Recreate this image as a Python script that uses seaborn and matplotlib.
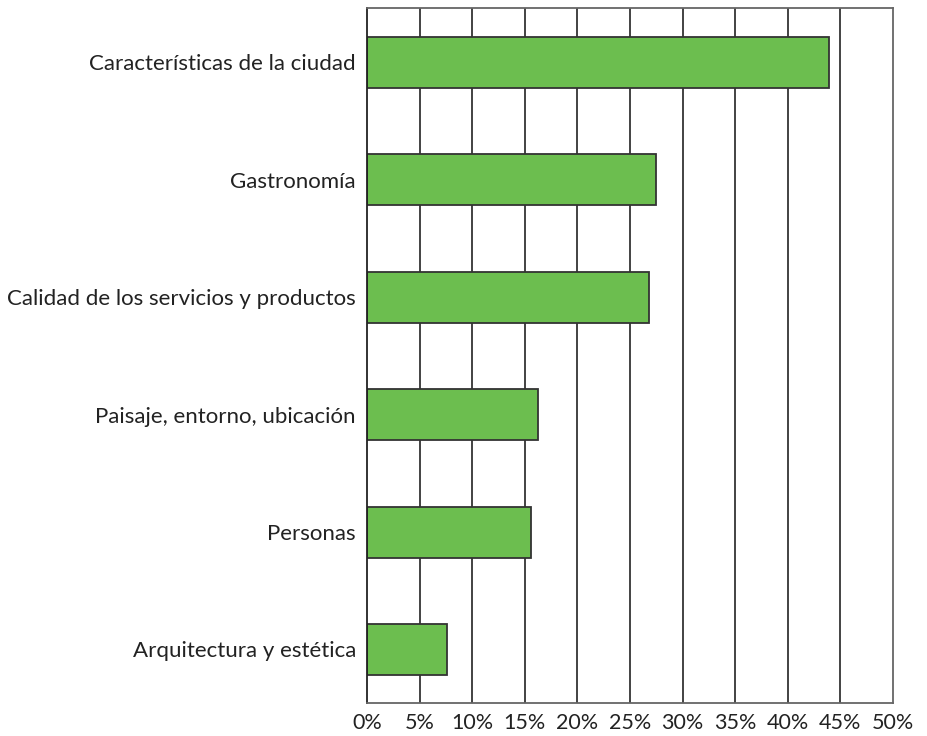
import matplotlib
matplotlib.use("Agg")
import matplotlib.pyplot as plt
import seaborn as sns
import pandas as pd

categories = [
    "Características de la ciudad",
    "Gastronomía",
    "Calidad de los servicios y productos",
    "Paisaje, entorno, ubicación",
    "Personas",
    "Arquitectura y estética",
]
values = [43.9, 27.5, 26.8, 16.3, 15.6, 7.6]
tick_values = list(range(0, 55, 5))
tick_labels = [f"{v}%" for v in tick_values]

df = pd.DataFrame({"categoria": categories, "valor": values})

sns.set_style("white")
plt.rcParams["font.family"] = ["Lato", "DejaVu Sans"]

fig = plt.figure(figsize=(9.27, 7.36), dpi=100)
ax = fig.add_axes([367 / 927, 1 - 703 / 736, (893 - 367) / 927, (703 - 8) / 736])

# vertical grid lines behind bars
for v in tick_values[1:-1]:
    ax.axvline(v, color="#222222", lw=1.2, zorder=0)

sns.barplot(data=df, y="categoria", x="valor", orient="h", color="#6CBE4F",
            saturation=1, width=0.434, edgecolor="#333333", linewidth=1.3,
            ax=ax, zorder=2)

ax.set_xlim(0, 50)
ax.set_ylim(5.456, -0.464)
ax.set_xticks(tick_values)
ax.set_xticklabels(tick_labels, fontsize=15.5, color="#222222")
ax.tick_params(axis="y", labelsize=16, labelcolor="#222222", length=0, pad=8)
ax.tick_params(axis="x", length=0, pad=7)
ax.set_xlabel("")
ax.set_ylabel("")

for side in ["top", "right", "bottom"]:
    ax.spines[side].set_color("#666666")
    ax.spines[side].set_linewidth(1.3)
ax.spines["left"].set_color("#222222")
ax.spines["left"].set_linewidth(1.3)

fig.savefig("out.png", dpi=100)
